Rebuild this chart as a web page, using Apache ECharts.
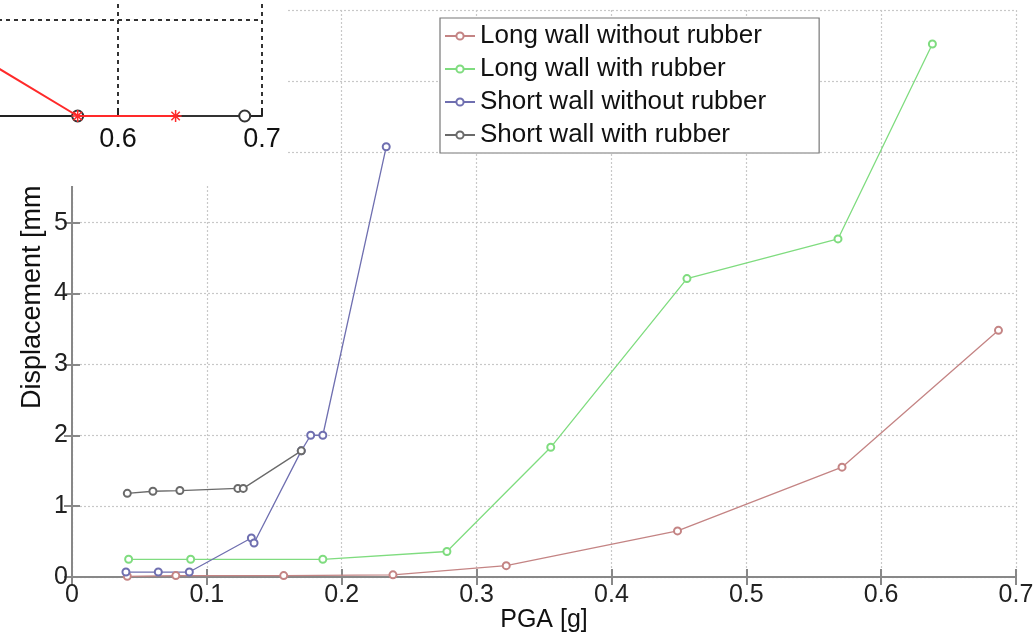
<!DOCTYPE html>
<html>
<head>
<meta charset="utf-8">
<script src="https://cdn.jsdelivr.net/npm/echarts@6/dist/echarts.min.js"></script>
<style>
html, body { margin: 0; padding: 0; background: #fff; }
#main { width: 1036px; height: 634px; }
</style>
</head>
<body>
<div id="main"></div>
<script>
// main chart data: [PGA g, displacement mm]
let longNoRubber = [[0.041, 0.01], [0.077, 0.02], [0.157, 0.02], [0.238, 0.03], [0.322, 0.16], [0.449, 0.65], [0.571, 1.55], [0.687, 3.48]];
let longRubber = [[0.042, 0.25], [0.088, 0.25], [0.186, 0.25], [0.278, 0.36], [0.355, 1.83], [0.456, 4.21], [0.568, 4.77], [0.638, 7.52]];
let shortNoRubber = [[0.040, 0.07], [0.064, 0.07], [0.087, 0.07], [0.133, 0.55], [0.135, 0.48], [0.170, 1.78], [0.177, 2.0], [0.186, 2.0], [0.233, 6.07]];
let shortRubber = [[0.041, 1.18], [0.060, 1.21], [0.080, 1.22], [0.123, 1.25], [0.127, 1.25], [0.170, 1.78]];
let seriesNames = ['Long wall without rubber', 'Long wall with rubber', 'Short wall without rubber', 'Short wall with rubber'];
let seriesColors = ['#c48484', '#7fdc7f', '#6f6fb0', '#6a6a6a'];

// pasted fragment of another plot in the top-left corner
let insetRed = [[0.5, 0.65], [0.572, 0], [0.64, 0]];
let insetBlack = [[0.572, 0], [0.688, 0]];

let font = 'Liberation Sans, Arial, sans-serif';
let chart = echarts.init(document.getElementById('main'));

let mainSeries = [longNoRubber, longRubber, shortNoRubber, shortRubber].map(function (d, i) {
    return {
        name: seriesNames[i],
        type: 'line',
        data: d,
        symbol: 'emptyCircle',
        symbolSize: 7,
        color: seriesColors[i],
        lineStyle: { width: 1.3 },
        itemStyle: { borderWidth: 1.3 },
        z: 3
    };
});

option = {
    animation: false,
    backgroundColor: '#fff',
    textStyle: { fontFamily: font },
    grid: [
        { left: 72, right: 20, top: 10, bottom: 57, outerBoundsMode: 'none' },
        { left: -26, width: 288, top: -76, height: 192, outerBoundsMode: 'none' }
    ],
    legend: {
        orient: 'vertical',
        left: 440,
        top: 18,
        data: seriesNames,
        backgroundColor: '#fff',
        borderColor: '#777',
        borderWidth: 1.2,
        padding: [5, 53, 5, 4],
        itemWidth: 30,
        itemHeight: 9,
        itemGap: 7,
        textStyle: { fontSize: 26, color: '#111', fontFamily: font, lineHeight: 24 },
        z: 10
    },
    xAxis: [
        {
            type: 'value', gridIndex: 0, min: 0, max: 0.7, interval: 0.1,
            name: 'PGA [g]', nameLocation: 'middle', nameGap: 31, nameMoveOverlap: false,
            nameTextStyle: { fontSize: 25, color: '#111' },
            axisLine: { lineStyle: { color: '#888', width: 2 } },
            axisTick: { inside: true, length: 8, lineStyle: { color: '#888', width: 2 } },
            axisLabel: { fontSize: 25, color: '#222', margin: 6 },
            splitLine: { lineStyle: { color: '#c8c8c8', type: [2, 2], width: 1.2 } }
        },
        {
            type: 'value', gridIndex: 0, position: 'top', min: 0, max: 0.7, interval: 0.1,
            axisLine: { lineStyle: { color: '#888', width: 2 } },
            axisTick: { inside: true, length: 8, lineStyle: { color: '#888', width: 2 } },
            axisLabel: { show: false },
            splitLine: { show: false }
        },
        {
            type: 'value', gridIndex: 1, min: 0.5, max: 0.7, interval: 0.1, z: 60,
            axisLine: { lineStyle: { color: '#222', width: 2 } },
            axisTick: { inside: true, length: 8, lineStyle: { color: '#222', width: 2 } },
            axisLabel: { fontSize: 27, color: '#111', margin: 10 },
            splitLine: { lineStyle: { color: '#333', type: [4, 4], width: 2 } }
        }
    ],
    yAxis: [
        {
            type: 'value', gridIndex: 0, min: 0, max: 8, interval: 1,
            name: 'Displacement [mm]', nameLocation: 'middle', nameGap: 26, nameMoveOverlap: false,
            nameTextStyle: { fontSize: 27, color: '#111' },
            axisLine: { lineStyle: { color: '#888', width: 2 } },
            axisTick: { inside: true, length: 8, lineStyle: { color: '#888', width: 2 } },
            axisLabel: { fontSize: 25, color: '#222', margin: 4 },
            splitLine: { lineStyle: { color: '#c8c8c8', type: [2, 2], width: 1.2 } }
        },
        {
            type: 'value', gridIndex: 0, position: 'right', min: 0, max: 8, interval: 1,
            axisLine: { show: true, lineStyle: { color: '#888', width: 2 } },
            axisTick: { show: true, inside: true, length: 8, lineStyle: { color: '#888', width: 2 } },
            axisLabel: { show: false },
            splitLine: { show: false }
        },
        {
            type: 'value', gridIndex: 1, min: 0, max: 2, interval: 1, z: 60,
            axisLine: { show: false },
            axisTick: { show: false },
            axisLabel: { show: false },
            splitLine: { lineStyle: { color: '#333', type: [4, 4], width: 2 } }
        }
    ],
    graphic: [
        { type: 'rect', left: 0, top: 0, shape: { width: 288, height: 186 }, style: { fill: '#fff' }, z: 50 }
    ],
    series: mainSeries.concat([
        {
            type: 'line', xAxisIndex: 2, yAxisIndex: 2, data: insetBlack,
            symbol: 'emptyCircle', symbolSize: 11, color: '#333',
            lineStyle: { width: 2 }, itemStyle: { borderWidth: 2 }, z: 61
        },
        {
            type: 'line', xAxisIndex: 2, yAxisIndex: 2, data: insetRed,
            symbol: 'path://M0,5L10,5M5,0L5,10M1.5,1.5L8.5,8.5M8.5,1.5L1.5,8.5',
            symbolSize: 12, showSymbol: true, color: '#ff2a2a',
            lineStyle: { width: 2 }, itemStyle: { color: '#ff2a2a', borderColor: '#ff2a2a', borderWidth: 1.5 }, z: 62
        }
    ])
};
chart.setOption(option);
</script>
</body>
</html>
